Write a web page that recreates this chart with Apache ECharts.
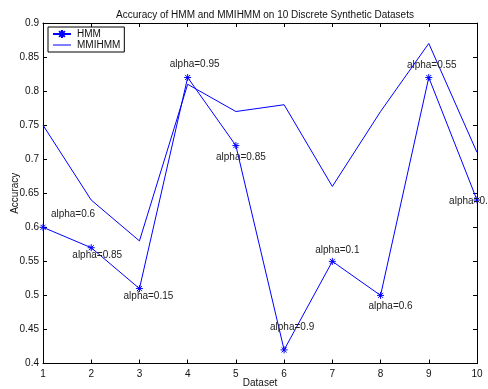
<!DOCTYPE html>
<html><head><meta charset="utf-8">
<script src="https://cdn.jsdelivr.net/npm/echarts@6/dist/echarts.min.js"></script>
<style>html,body{margin:0;padding:0;background:#fff}#chart{width:488px;height:389px}</style>
</head><body><div id="chart"></div>
<script>
// Accuracy per dataset for the two models
const datasets = [1, 2, 3, 4, 5, 6, 7, 8, 9, 10];
const hmmAccuracy = [0.60, 0.57, 0.51, 0.82, 0.72, 0.42, 0.55, 0.50, 0.82, 0.64];
const mmihmmAccuracy = [0.75, 0.64, 0.58, 0.81, 0.77, 0.78, 0.66, 0.77, 0.87, 0.71];
// alpha annotation attached to each HMM point
const alphaValues = ['0.6', '0.85', '0.15', '0.95', '0.85', '0.9', '0.1', '0.6', '0.55', '0.05'];

// where each annotation sits relative to its point (px)
const alphaLabelOffsets = [[30, -13], [6, 8], [9, 8], [7, -13], [5, 12], [8, -23], [5, -11], [10, 11], [3, -12], [-3, 1]];

const FONT = 'Liberation Sans, Arial, Helvetica, sans-serif';
const BLUE = '#0000ff';
const asterisk = 'path://M0,-5L0,5M-5,0L5,0M-3.6,-3.6L3.6,3.6M-3.6,3.6L3.6,-3.6';
// plain line swatch; tiny corner specks pin the icon box to the full item size
const lineIcon = 'path://M0,0L0.01,0L0,0.01ZM0,4.5L18,4.5L18,5.5L0,5.5ZM17.99,10L18,10L18,9.99Z';

const hmmData = datasets.map((d, i) => ({
  value: [d, hmmAccuracy[i]],
  label: {
    show: true,
    formatter: 'alpha=' + alphaValues[i],
    position: 'inside',
    offset: alphaLabelOffsets[i],
    align: 'center',
    verticalAlign: 'middle',
    color: '#222',
    fontSize: 10,
    fontFamily: FONT
  }
}));
const mmiData = datasets.map((d, i) => [d, mmihmmAccuracy[i]]);

const fmt = v => String(+v.toFixed(2));
const baseX = {
  type: 'value', min: 1, max: 10, interval: 1,
  axisLine: { show: true, onZero: false, lineStyle: { color: '#000', width: 1 } },
  axisTick: { show: true, inside: true, length: 4, lineStyle: { color: '#000' } },
  splitLine: { show: false }
};
const baseY = {
  type: 'value', min: 0.4, max: 0.9, interval: 0.05,
  axisLine: { show: true, onZero: false, lineStyle: { color: '#000', width: 1 } },
  axisTick: { show: true, inside: true, length: 4, lineStyle: { color: '#000' } },
  splitLine: { show: false }
};

const chart = echarts.init(document.getElementById('chart'), null, { renderer: 'canvas' });
chart.setOption({
  animation: false,
  backgroundColor: '#fff',
  title: {
    text: 'Accuracy of HMM and MMIHMM on 10 Discrete Synthetic Datasets',
    left: 260, top: 5, textAlign: 'center',
    textStyle: { fontSize: 10, fontWeight: 'normal', color: '#111', fontFamily: FONT }
  },
  grid: { left: 43, right: 11, top: 23, bottom: 25.5, containLabel: false, outerBoundsMode: 'none' },
  legend: {
    orient: 'vertical', left: 48, top: 27,
    backgroundColor: '#fff', borderColor: '#000', borderWidth: 1,
    padding: [2, 4, 2, 4], itemGap: 1, itemWidth: 18, itemHeight: 10,
    textStyle: { fontSize: 10, color: '#111', fontFamily: FONT, padding: [0, 0, 0, 1] },
    data: [{ name: 'HMM' }, { name: 'MMIHMM', icon: lineIcon }]
  },
  xAxis: [
    Object.assign({}, baseX, {
      position: 'bottom', name: 'Dataset', nameLocation: 'middle', nameGap: 15, nameMoveOverlap: false,
      nameTextStyle: { fontSize: 10, color: '#111', fontFamily: FONT },
      axisLabel: { fontSize: 10, color: '#111', fontFamily: FONT, margin: 6 }
    }),
    Object.assign({}, baseX, { position: 'top', axisLabel: { show: false } })
  ],
  yAxis: [
    Object.assign({}, baseY, {
      position: 'left', name: 'Accuracy', nameLocation: 'middle', nameGap: 23, nameMoveOverlap: false,
      nameTextStyle: { fontSize: 10, color: '#111', fontFamily: FONT },
      axisLabel: { fontSize: 10, color: '#111', fontFamily: FONT, margin: 4, formatter: fmt }
    }),
    Object.assign({}, baseY, { position: 'right', axisLabel: { show: false } })
  ],
  series: [
    {
      name: 'HMM', type: 'line', data: hmmData,
      symbol: asterisk, symbolSize: 7, showAllSymbol: true,
      lineStyle: { color: BLUE, width: 1 },
      itemStyle: { color: BLUE, borderColor: BLUE, borderWidth: 1 },
      emphasis: { disabled: true }, z: 3
    },
    {
      name: 'MMIHMM', type: 'line', data: mmiData,
      symbol: 'none',
      lineStyle: { color: BLUE, width: 1 },
      itemStyle: { color: BLUE },
      emphasis: { disabled: true }, z: 2
    }
  ]
});
</script></body></html>
